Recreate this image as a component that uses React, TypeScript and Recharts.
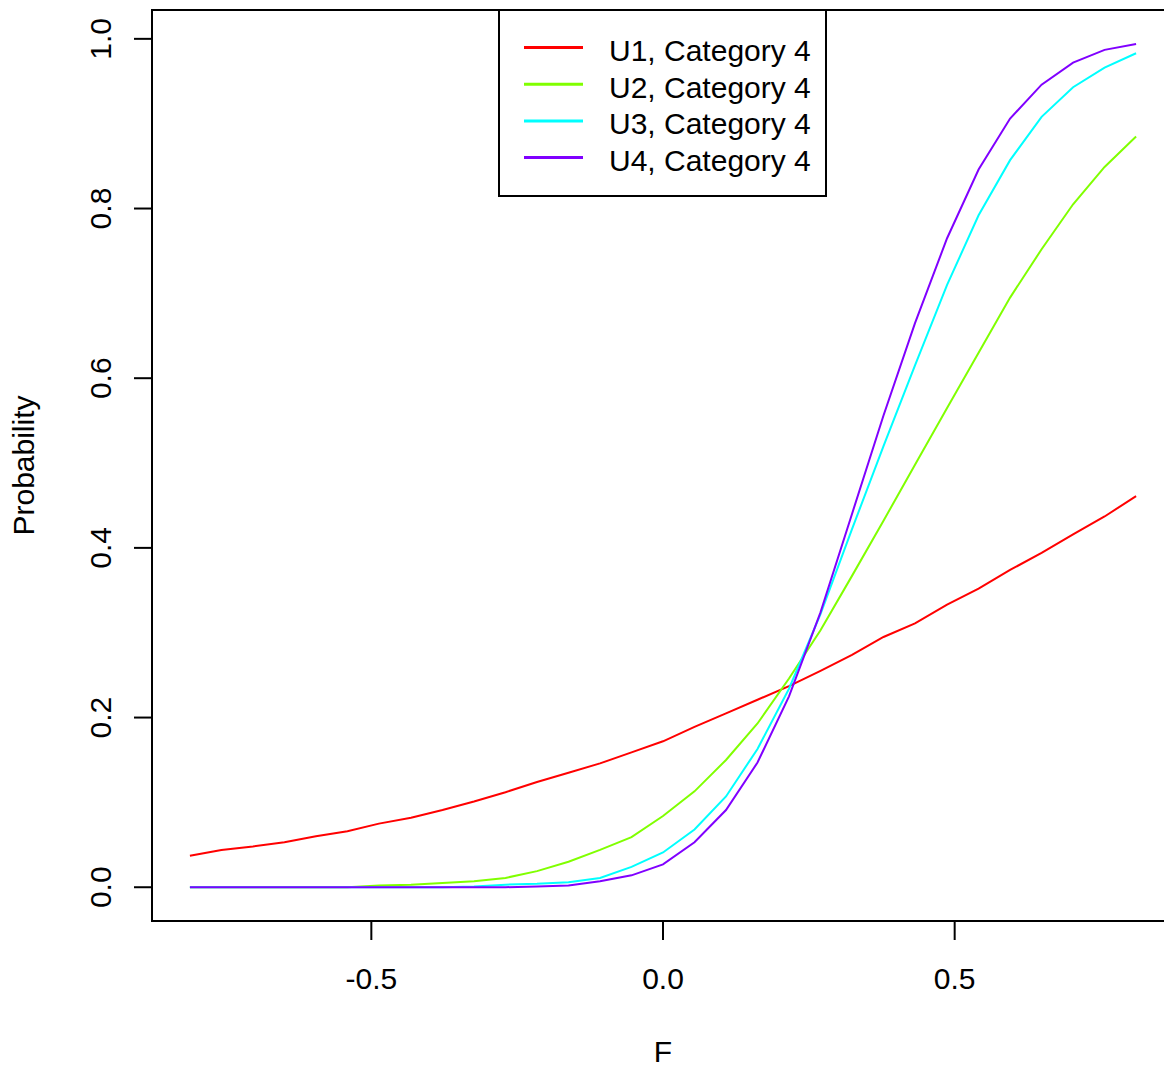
import React from "react";
import {
  LineChart,
  Line,
  XAxis,
  YAxis,
  Legend,
  ReferenceArea,
  Label,
} from "recharts";

const FONT = "Liberation Sans, Arial, Helvetica, sans-serif";

// F values (x axis)
const fValues = [
  -0.811, -0.757, -0.703, -0.649, -0.595, -0.541, -0.487, -0.432, -0.378, -0.324,
  -0.27, -0.216, -0.162, -0.108, -0.054, 0, 0.054, 0.108, 0.162, 0.216,
  0.27, 0.324, 0.378, 0.432, 0.487, 0.541, 0.595, 0.649, 0.703, 0.757, 0.811,
];

const u1 = [
  0.037, 0.044, 0.048, 0.053, 0.06, 0.066, 0.075, 0.082, 0.091, 0.101,
  0.112, 0.124, 0.135, 0.146, 0.159, 0.172, 0.189, 0.205, 0.221, 0.237,
  0.255, 0.274, 0.295, 0.311, 0.333, 0.352, 0.374, 0.394, 0.416, 0.437, 0.461,
];
const u2 = [
  0, 0, 0, 0, 0, 0, 0.002, 0.003, 0.005, 0.007,
  0.011, 0.019, 0.03, 0.044, 0.059, 0.084, 0.113, 0.15, 0.193, 0.246,
  0.303, 0.367, 0.432, 0.498, 0.565, 0.63, 0.695, 0.752, 0.805, 0.849, 0.885,
];
const u3 = [
  0, 0, 0, 0, 0, 0, 0, 0, 0, 0.001,
  0.003, 0.004, 0.006, 0.011, 0.024, 0.041, 0.068, 0.107, 0.163, 0.234,
  0.322, 0.422, 0.52, 0.615, 0.71, 0.792, 0.857, 0.908, 0.943, 0.966, 0.983,
];
const u4 = [
  0, 0, 0, 0, 0, 0, 0, 0, 0, 0,
  0, 0.001, 0.002, 0.007, 0.014, 0.027, 0.053, 0.091, 0.147, 0.225,
  0.324, 0.44, 0.556, 0.665, 0.765, 0.846, 0.906, 0.946, 0.972, 0.987, 0.994,
];

const seriesNames = ["U1, Category 4", "U2, Category 4", "U3, Category 4", "U4, Category 4"];
const seriesColors = ["#ff0000", "#80ff00", "#00ffff", "#8000ff"];
const xTicks = [-0.5, 0, 0.5];
const yTicks = [0, 0.2, 0.4, 0.6, 0.8, 1.0];

const data = fValues.map((f, i) => ({
  f,
  s0: u1[i],
  s1: u2[i],
  s2: u3[i],
  s3: u4[i],
}));

const X_DOMAIN = [-0.876, 0.876];
const Y_DOMAIN = [-0.0398, 1.034];

function XTick({ x, payload }: any) {
  return (
    <text x={x} y={989} textAnchor="middle" fontFamily={FONT} fontSize={30} fill="#000">
      {Number(payload.value).toFixed(1)}
    </text>
  );
}

function YTick({ y, payload }: any) {
  return (
    <text
      x={111}
      y={y}
      transform={`rotate(-90 111 ${y})`}
      textAnchor="middle"
      fontFamily={FONT}
      fontSize={30}
      fill="#000"
    >
      {Number(payload.value).toFixed(1)}
    </text>
  );
}

function LegendBox() {
  return (
    <svg width={330} height={190} style={{ display: "block" }}>
      <rect x={1} y={1} width={327} height={186} fill="#fff" stroke="#000" strokeWidth={2} />
      {seriesNames.map((name, i) => (
        <g key={name}>
          <line
            x1={26}
            x2={85}
            y1={38.5 + i * 36.7}
            y2={38.5 + i * 36.7}
            stroke={seriesColors[i]}
            strokeWidth={3}
          />
          <text x={111} y={52 + i * 36.7} fontFamily={FONT} fontSize={30} fill="#000">
            {name}
          </text>
        </g>
      ))}
    </svg>
  );
}

export default function App() {
  return (
    <div
      style={{
        position: "absolute",
        left: 0,
        top: 0,
        width: 1164,
        height: 1068,
        overflow: "hidden",
        background: "#fff",
      }}
    >
      <LineChart
        width={1180}
        height={1068}
        data={data}
        margin={{ top: 10, right: 6, bottom: 0, left: 0 }}
      >
        <XAxis
          dataKey="f"
          type="number"
          domain={X_DOMAIN}
          ticks={xTicks}
          height={147}
          tickSize={19}
          axisLine={false}
          tickLine={{ stroke: "#000", strokeWidth: 2 }}
          tick={<XTick />}
        >
          <Label
            content={({ viewBox }: any) => (
              <text
                x={viewBox.x + viewBox.width / 2}
                y={viewBox.y + 141}
                textAnchor="middle"
                fontFamily={FONT}
                fontSize={30}
                fill="#000"
              >
                F
              </text>
            )}
          />
        </XAxis>
        <YAxis
          type="number"
          domain={Y_DOMAIN}
          ticks={yTicks}
          width={152}
          tickSize={18}
          axisLine={false}
          tickLine={{ stroke: "#000", strokeWidth: 2 }}
          tick={<YTick />}
        >
          <Label
            content={({ viewBox }: any) => {
              const cy = viewBox.y + viewBox.height / 2;
              return (
                <text
                  x={34}
                  y={cy}
                  transform={`rotate(-90 34 ${cy})`}
                  textAnchor="middle"
                  fontFamily={FONT}
                  fontSize={30}
                  fill="#000"
                >
                  Probability
                </text>
              );
            }}
          />
        </YAxis>
        <ReferenceArea
          x1={X_DOMAIN[0]}
          x2={X_DOMAIN[1]}
          y1={Y_DOMAIN[0]}
          y2={Y_DOMAIN[1]}
          fill="none"
          fillOpacity={0}
          stroke="#000"
          strokeWidth={2}
          ifOverflow="visible"
        />
        {seriesNames.map((name, i) => (
          <Line
            key={name}
            type="linear"
            dataKey={`s${i}`}
            name={name}
            stroke={seriesColors[i]}
            strokeWidth={2}
            dot={false}
            isAnimationActive={false}
          />
        ))}
        <Legend
          layout="vertical"
          align="center"
          verticalAlign="middle"
          wrapperStyle={{ left: 498, top: 9, width: 330, height: 190 }}
          content={() => <LegendBox />}
        />
      </LineChart>
    </div>
  );
}
